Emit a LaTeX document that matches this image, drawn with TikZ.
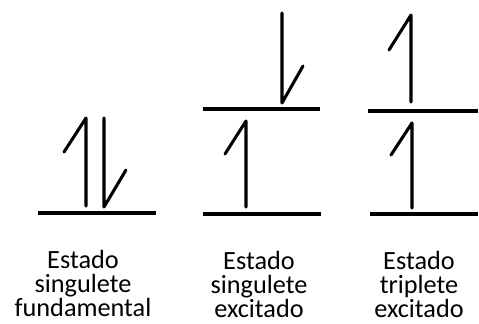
\documentclass[tikz,border=0pt]{standalone}
\usepackage{fontspec}
\setmainfont{Carlito}
\usepackage{tikz}
\usetikzlibrary{positioning}
\tikzset{
  level/.style={line width=2.4pt},
  spin/.style={line width=2.3pt, line cap=round, line join=round},
  statelabel/.style={
    font=\fontsize{19.7pt}{18pt}\selectfont, align=center,
    anchor=north, inner sep=0pt
  },
}
\begin{document}
\begin{tikzpicture}[x=0.75pt, y=-0.75pt]
\useasboundingbox (0,0) rectangle (479,324);

% Ground singlet
\draw[level] (38,213) -- (156,213);
\draw[spin] (64,152) -- (86,118) -- (86,206);
\draw[spin] (104,118) -- (104,207) -- (126,170);

% Excited singlet
\draw[level] (203,214) -- (321,214);
\draw[level] (203,109) -- (320,109);
\draw[spin] (225,154) -- (246,121) -- (246,207);
\draw[spin] (282,13) -- (282,103) -- (303,66);

% Excited triplet
\draw[level] (370,214) -- (478,214);
\draw[level] (368,111) -- (478,111);
\draw[spin] (389,50) -- (411,15) -- (411,102);
\draw[spin] (391,155) -- (412,123) -- (412,208);

% Labels
\node[statelabel] (fund) at (83,250) {Estado\\singulete\\fundamental};
\node[statelabel] (sing) at (259,251) {Estado\\singulete\\excitado};
\node[statelabel] (trip) at (419,251) {Estado\\triplete\\excitado};

\end{tikzpicture}
\end{document}
